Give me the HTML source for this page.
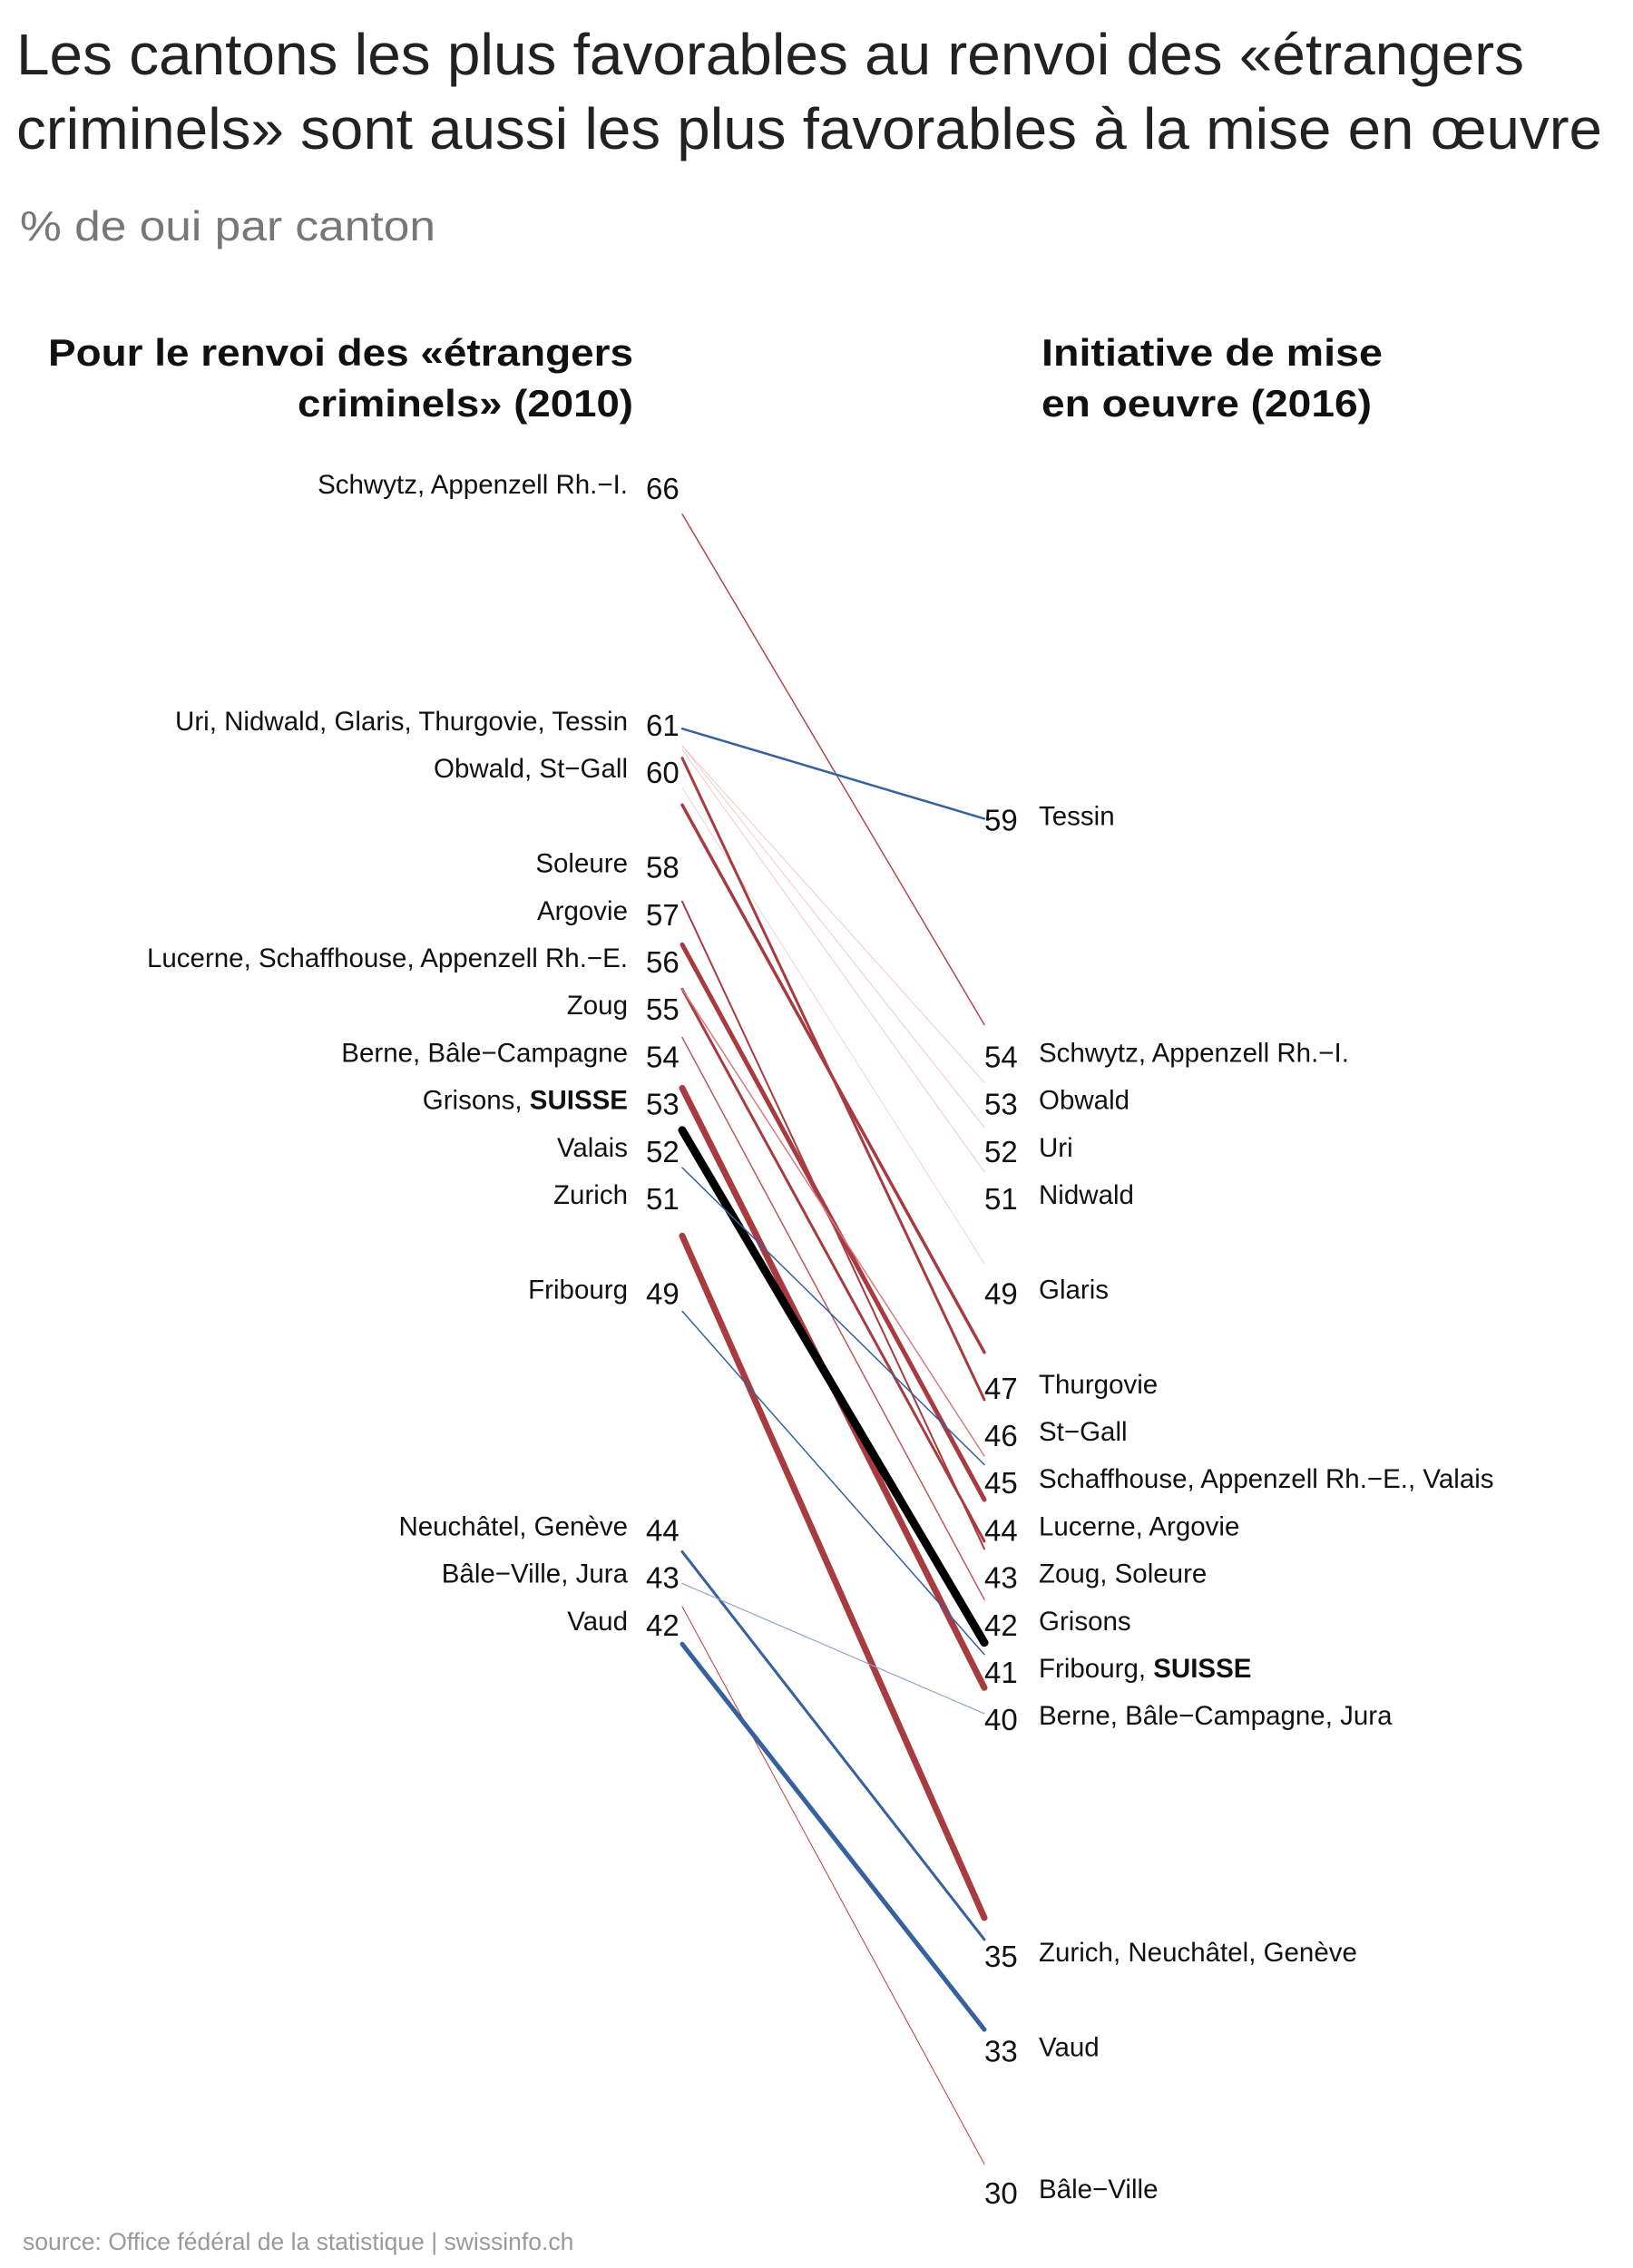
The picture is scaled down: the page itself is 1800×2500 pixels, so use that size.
<!DOCTYPE html>
<html><head><meta charset="utf-8"><style>
html,body{margin:0;padding:0;background:#fff;}
svg{display:block;font-family:"Liberation Sans",sans-serif;}
</style></head><body>
<svg id="chart" width="1800" height="2500" viewBox="0 0 1800 2500" xmlns="http://www.w3.org/2000/svg">
<text x="18" y="82" font-size="64" fill="#222" textLength="1662" lengthAdjust="spacingAndGlyphs">Les cantons les plus favorables au renvoi des «étrangers</text>
<text x="18" y="164" font-size="64" fill="#222" textLength="1748" lengthAdjust="spacingAndGlyphs">criminels» sont aussi les plus favorables à la mise en œuvre</text>
<text x="22" y="265" font-size="46" fill="#777" textLength="458" lengthAdjust="spacingAndGlyphs">% de oui par canton</text>
<text x="698" y="403" font-size="42" font-weight="bold" fill="#111" text-anchor="end" textLength="645" lengthAdjust="spacingAndGlyphs">Pour le renvoi des «étrangers</text>
<text x="698" y="459" font-size="42" font-weight="bold" fill="#111" text-anchor="end" textLength="370" lengthAdjust="spacingAndGlyphs">criminels» (2010)</text>
<text x="1148" y="403" font-size="42" font-weight="bold" fill="#111" textLength="376" lengthAdjust="spacingAndGlyphs">Initiative de mise</text>
<text x="1148" y="459" font-size="42" font-weight="bold" fill="#111" textLength="364" lengthAdjust="spacingAndGlyphs">en oeuvre (2016)</text>
<g id="lines"></g>
<g id="labels"></g>
<text x="25" y="2480" font-size="26.5" fill="#999">source: Office fédéral de la statistique | swissinfo.ch</text>
</svg>
<script>
const startValues = [65.43, 60.90, 60.54, 60.54, 60.46, 59.65, 60.28, 59.29, 57.25, 56.34, 55.40, 55.40, 54.38, 53.31, 52.42, 51.63, 50.19, 48.60, 43.52, 42.85, 42.36, 41.57];
const endValues   = [54.65, 59.00, 53.43, 52.48, 51.54, 49.61, 46.73, 47.73, 43.58, 44.62, 43.74, 45.54, 42.51, 40.65, 41.60, 45.36, 35.79, 41.35, 35.33, 40.10, 30.59, 33.43];
const lineColors  = ['#b5474b','#36609e','#efc9c9','#efc9c9','#efc9c9','#f2d4d4','#a83b3f','#a83b3f','#a83b3f','#a83b3f','#a83b3f','#d77b7e','#c05558','#a83b3f','#000000','#36609e','#a83b3f','#36609e','#36609e','#8fa7cc','#c0393d','#36609e'];
const lineWidths  = [1.5, 2.5, 1, 1, 1, 1, 3, 3.5, 2, 5, 3, 1.5, 1.5, 7, 9, 1.5, 7, 1.5, 3, 1.2, 1, 5];
const leftValues  = [66, 61, 60, 58, 57, 56, 55, 54, 53, 52, 51, 49, 44, 43, 42];
const leftNames   = ['Schwytz, Appenzell Rh.−I.', 'Uri, Nidwald, Glaris, Thurgovie, Tessin', 'Obwald, St−Gall', 'Soleure', 'Argovie', 'Lucerne, Schaffhouse, Appenzell Rh.−E.', 'Zoug', 'Berne, Bâle−Campagne', 'Grisons, |SUISSE', 'Valais', 'Zurich', 'Fribourg', 'Neuchâtel, Genève', 'Bâle−Ville, Jura', 'Vaud'];
const rightValues = [59, 54, 53, 52, 51, 49, 47, 46, 45, 44, 43, 42, 41, 40, 35, 33, 30];
const rightNames  = ['Tessin', 'Schwytz, Appenzell Rh.−I.', 'Obwald', 'Uri', 'Nidwald', 'Glaris', 'Thurgovie', 'St−Gall', 'Schaffhouse, Appenzell Rh.−E., Valais', 'Lucerne, Argovie', 'Zoug, Soleure', 'Grisons', 'Fribourg, |SUISSE', 'Berne, Bâle−Campagne, Jura', 'Zurich, Neuchâtel, Genève', 'Vaud', 'Bâle−Ville'];

const NS = 'http://www.w3.org/2000/svg';
const xLeft = 752, xRight = 1085;
function yScale(v){ return 537 + (66 - v) * 52.2; }

const lg = document.getElementById('lines');
for (let i = 0; i < startValues.length; i++) {
  const l = document.createElementNS(NS, 'line');
  l.setAttribute('x1', xLeft); l.setAttribute('y1', yScale(startValues[i]));
  l.setAttribute('x2', xRight); l.setAttribute('y2', yScale(endValues[i]));
  l.setAttribute('stroke', lineColors[i]);
  l.setAttribute('stroke-width', lineWidths[i]);
  l.setAttribute('stroke-linecap', 'round');
  
  
  lg.appendChild(l);
}

const lab = document.getElementById('labels');
function nameText(x, y, str, anchor) {
  const t = document.createElementNS(NS, 'text');
  t.setAttribute('x', x); t.setAttribute('y', y);
  t.setAttribute('font-size', '29.5'); t.setAttribute('fill', '#111');
  t.setAttribute('text-anchor', anchor);
  const parts = str.split('|');
  const s1 = document.createElementNS(NS, 'tspan'); s1.textContent = parts[0]; t.appendChild(s1);
  if (parts[1]) { const s2 = document.createElementNS(NS, 'tspan'); s2.setAttribute('font-weight', 'bold'); s2.textContent = parts[1]; t.appendChild(s2); }
  
  
  lab.appendChild(t);
}
function numText(x, y, v) {
  const t = document.createElementNS(NS, 'text');
  t.setAttribute('x', x); t.setAttribute('y', y);
  t.setAttribute('font-size', '33'); t.setAttribute('fill', '#111');
  t.textContent = v;
  
  
  lab.appendChild(t);
}
for (let i = 0; i < leftValues.length; i++) {
  const y = yScale(leftValues[i]);
  nameText(692, y + 7, leftNames[i], 'end');
  numText(712, y + 13, leftValues[i]);
}
for (let i = 0; i < rightValues.length; i++) {
  const y = yScale(rightValues[i]);
  numText(1085, y + 13, rightValues[i]);
  nameText(1145, y + 7, rightNames[i], 'start');
}
</script>
</body></html>
